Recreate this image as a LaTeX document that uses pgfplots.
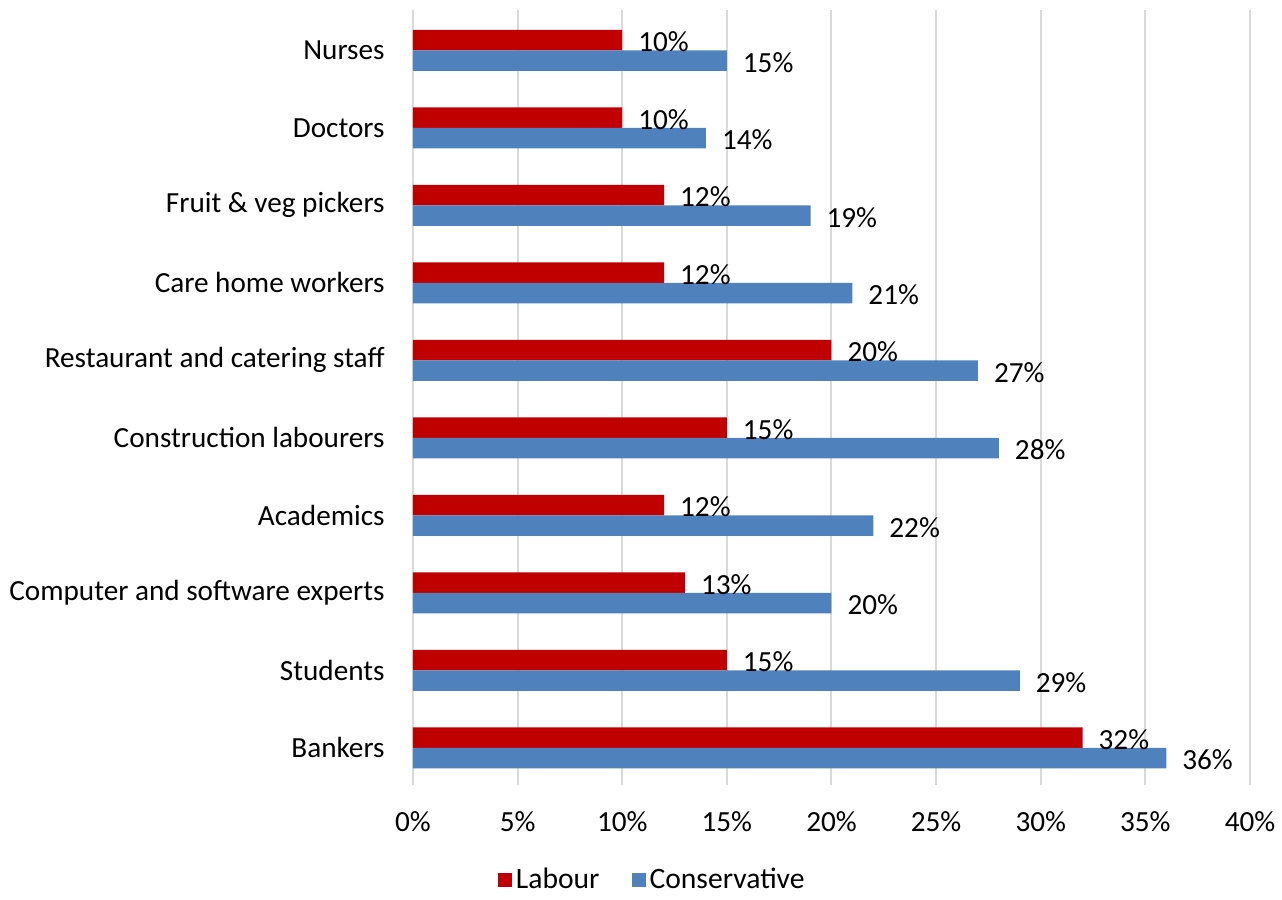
\documentclass[border=0pt]{standalone}
\usepackage{pgfplots}
\pgfplotsset{compat=1.18}
\usepackage{fontspec}
\setmainfont{Carlito}
\definecolor{labred}{HTML}{C00000}
\definecolor{conblue}{HTML}{4F81BD}
\definecolor{gridgray}{HTML}{D9D9D9}
\begin{document}
\begin{tikzpicture}
\begin{axis}[
  at={(0,0)}, anchor=south west,
  scale only axis,
  width=418.5pt, height=387.5pt,
  xbar,
  xmin=0, xmax=40,
  ymin=-0.48, ymax=9.52,
  xtick={0,5,...,40},
  xticklabel={\pgfmathprintnumber[assume math mode=true]{\tick}\%},
  ytick={0,...,9},
  yticklabels={Bankers,Students,Computer and software experts,Academics,Construction labourers,Restaurant and catering staff,Care home workers,Fruit \& veg pickers,Doctors,Nurses},
  font=\fontsize{14.6pt}{17pt}\selectfont,
  tick label style={font=\fontsize{14.6pt}{17pt}\selectfont},
  yticklabel style={inner sep=0pt, xshift=-14pt},
  xticklabel style={inner sep=0pt, yshift=-13pt},
  major tick length=0pt,
  tick style={draw=none},
  axis line style={draw=none},
  xmajorgrids, grid style={gridgray, line width=1pt},
  bar width=10.25pt,
  clip=false,
  nodes near coords={\pgfmathprintnumber[assume math mode=true]{\pgfplotspointmeta}\%},
  nodes near coords style={font=\fontsize{14.6pt}{17pt}\selectfont, black, anchor=west, xshift=4.5pt, yshift=-1pt},
  legend style={draw=none, at={(0.287,-0.1226)}, anchor=center, legend columns=2,
    /tikz/every even column/.append style={column sep=14pt},
    font=\fontsize{14.8pt}{17pt}\selectfont},
  legend image code/.code={\fill[#1] (-1pt,-3.5pt) rectangle (6pt,3.5pt);},
]
\addplot[fill=labred, draw=none, bar shift=5.125pt] coordinates {
 (32,0) (15,1) (13,2) (12,3) (15,4) (20,5) (12,6) (12,7) (10,8) (10,9)};
\addlegendentry{Labour}
\addplot[fill=conblue, draw=none, bar shift=-5.125pt] coordinates {
 (36,0) (29,1) (20,2) (22,3) (28,4) (27,5) (21,6) (19,7) (14,8) (15,9)};
\addlegendentry{Conservative}
\end{axis}
\path (-206.5pt,-54pt) rectangle (434.5pt,392.5pt);
\end{tikzpicture}
\end{document}
